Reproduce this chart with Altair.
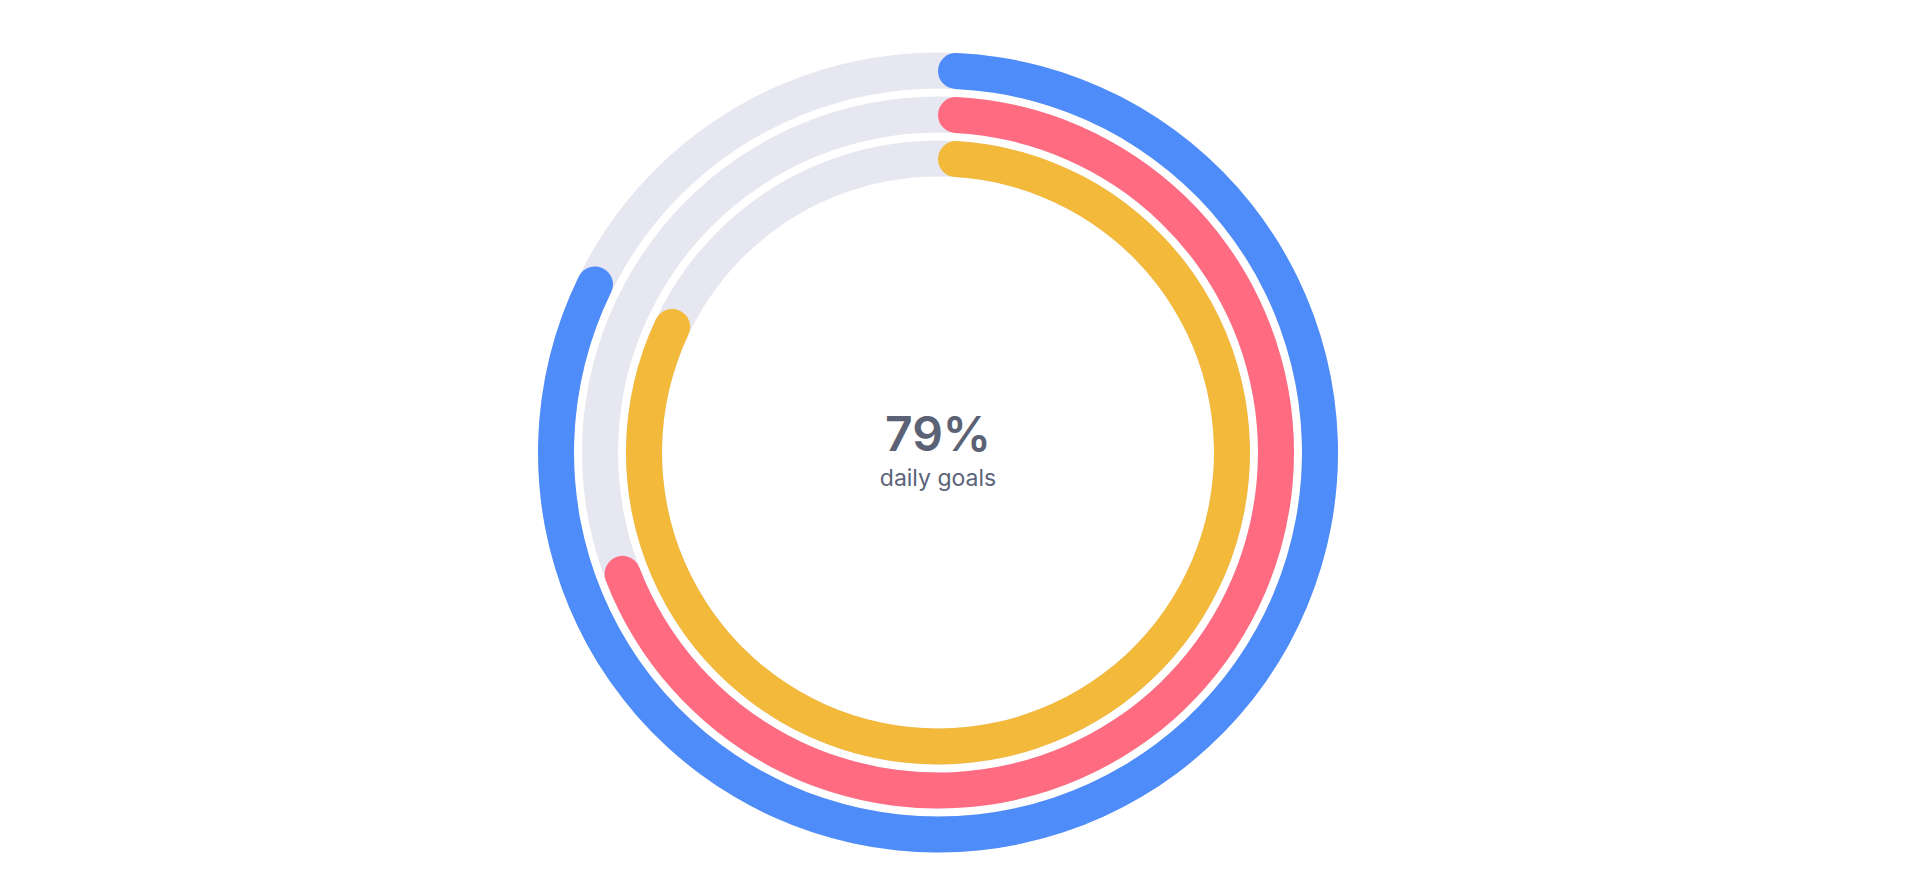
import altair as alt
import pandas as pd
import math

# data
rings = ["Move", "Exercise", "Stand"]
values = [83, 70, 83]
colors = ["#4E8CF9", "#FF6B81", "#F2B93B"]
track_color = "#E6E7F0"
center_value = "79%"
center_label = "daily goals"

# ring geometry (styles)
outer_radii = [400, 356, 312]
band = 36

theta_scale = alt.Scale(domain=[0, 100], range=[0, 2 * math.pi])

layers = []
for name, val, col, r in zip(rings, values, colors, outer_radii):
    df = pd.DataFrame({"ring": [name], "value": [val], "full": [100], "zero": [0]})
    bg = alt.Chart(df).mark_arc(radius=r, radius2=r - band, color=track_color).encode(
        theta=alt.Theta("zero:Q", scale=theta_scale, stack=False),
        theta2="full:Q",
    )
    fg = alt.Chart(df).mark_arc(radius=r, radius2=r - band, cornerRadius=band / 2, color=col).encode(
        theta=alt.Theta("zero:Q", scale=theta_scale, stack=False),
        theta2="value:Q",
    )
    layers += [bg, fg]

txt_df = pd.DataFrame({"big": [center_value], "small": [center_label]})
big = alt.Chart(txt_df).mark_text(
    font="Inter", fontSize=48, fontWeight=600, color="#5C6275", baseline="alphabetic", dy=-2
).encode(text="big:N")
small = alt.Chart(txt_df).mark_text(
    font="Inter", fontSize=23, fontWeight=400, color="#5B6379", baseline="alphabetic", dy=33
).encode(text="small:N")

chart = alt.layer(*layers, big, small).properties(
    width=1860, height=869,
    autosize=alt.AutoSizeParams(type="none"),
    padding={"left": 0, "top": 10, "right": 0, "bottom": 0},
).resolve_scale(theta="shared").configure_view(stroke=None)

chart.save("out.html", embed_options={"renderer": "svg", "actions": False})
